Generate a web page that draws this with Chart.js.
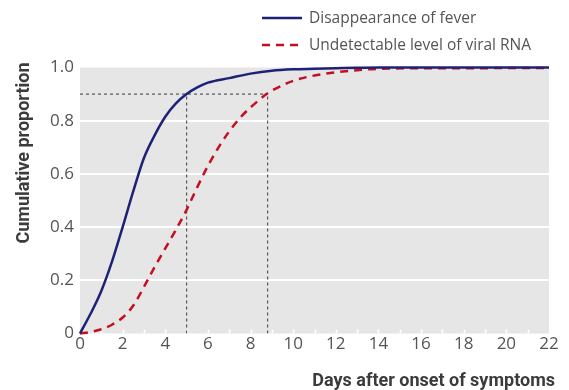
<!DOCTYPE html>
<html>
<head>
<meta charset="utf-8">
<script src="https://cdn.jsdelivr.net/npm/chart.js@4"></script>
<style>
  html, body { margin: 0; padding: 0; background: #fff; }
  #wrap { width: 569px; height: 390px; position: relative; }
</style>
</head>
<body>
<div id="wrap"><canvas id="grafico"></canvas></div>
<script>
// dados
const diasFebre = [0, 0.5, 1, 1.5, 2, 2.5, 3, 3.5, 4, 4.5, 5, 5.5, 6, 7, 8, 9, 10, 11, 12, 13, 14, 16, 18, 20, 22];
const febre = [0, 0.075, 0.16, 0.27, 0.4, 0.535, 0.66, 0.745, 0.815, 0.865, 0.9, 0.925, 0.943, 0.96, 0.977, 0.988, 0.993, 0.995, 0.997, 0.999, 1.0, 1.0, 1.0, 1.0, 1.0];

const diasRna = [0, 0.5, 1, 1.5, 2, 2.5, 3, 3.5, 4, 4.5, 5, 5.5, 6, 6.5, 7, 7.5, 8, 8.75, 9, 10, 11, 12, 13, 14, 16, 18, 20, 22];
const rna = [0, 0.006, 0.016, 0.033, 0.06, 0.105, 0.175, 0.25, 0.32, 0.39, 0.465, 0.55, 0.63, 0.7, 0.76, 0.81, 0.85, 0.9, 0.913, 0.95, 0.97, 0.982, 0.99, 0.995, 0.997, 0.997, 0.998, 0.998];

const nomes = ['Disappearance of fever', 'Undetectable level of viral RNA'];
const nivelRef = 0.9;
const diasRef = [5, 8.8];

const xTicks = [0, 2, 4, 6, 8, 10, 12, 14, 16, 18, 20, 22];
const yTicks = [0, 0.2, 0.4, 0.6, 0.8, 1.0];

const azul = '#1d2277';
const vermelho = '#c40f22';
const cinzaRef = '#555555';

function pontos(xs, ys) {
  return xs.map((x, i) => ({ x: x, y: ys[i] }));
}

// fundo cinza da área do gráfico
const fundoPlugin = {
  id: 'fundo',
  beforeDraw(chart) {
    const a = chart.chartArea;
    const ctx = chart.ctx;
    ctx.save();
    ctx.fillStyle = '#e6e6e6';
    ctx.fillRect(a.left, a.top, a.right - a.left, a.bottom - a.top);
    ctx.restore();
  },
  beforeDatasetsDraw(chart) {
    // pequenas marcas brancas em cada dia
    const ctx = chart.ctx;
    const xs = chart.scales.x;
    const a = chart.chartArea;
    ctx.save();
    ctx.strokeStyle = '#ffffff';
    ctx.lineWidth = 1.5;
    for (let d = 1; d < 22; d++) {
      const px = Math.round(xs.getPixelForValue(d)) + 0.5;
      ctx.beginPath();
      ctx.moveTo(px, a.bottom);
      ctx.lineTo(px, a.bottom - 4);
      ctx.stroke();
    }
    ctx.restore();
  }
};

// legenda e títulos dos eixos
const textosPlugin = {
  id: 'textos',
  afterDraw(chart) {
    const ctx = chart.ctx;
    ctx.save();
    const linhasY = [18, 45];
    for (let i = 0; i < 2; i++) {
      const ds = chart.data.datasets[i];
      ctx.strokeStyle = ds.borderColor;
      ctx.lineWidth = 2.5;
      ctx.setLineDash(ds.borderDash || []);
      ctx.beginPath();
      ctx.moveTo(262, linhasY[i]);
      ctx.lineTo(302, linhasY[i]);
      ctx.stroke();
      ctx.setLineDash([]);
      ctx.fillStyle = '#555555';
      ctx.font = '15.5px "Open Sans", sans-serif';
      ctx.textAlign = 'left';
      ctx.textBaseline = 'middle';
      ctx.fillText(ds.label, 309, linhasY[i] + 1);
    }

    ctx.fillStyle = '#3b3b3b';
    ctx.font = 'bold 18px Roboto, sans-serif';
    ctx.textAlign = 'right';
    ctx.textBaseline = 'middle';
    ctx.fillText('Days after onset of symptoms', 555, 381);

    ctx.translate(24, 153);
    ctx.rotate(-Math.PI / 2);
    ctx.textAlign = 'center';
    ctx.fillText('Cumulative proportion', 0, 0);
    ctx.restore();
  }
};

const ctx = document.getElementById('grafico').getContext('2d');

const grafico = new Chart(ctx, {
  type: 'line',
  data: {
    datasets: [
      {
        label: nomes[0],
        data: pontos(diasFebre, febre),
        borderColor: azul,
        borderWidth: 2.5,
        pointRadius: 0,
        cubicInterpolationMode: 'monotone',
        clip: 4
      },
      {
        label: nomes[1],
        data: pontos(diasRna, rna),
        borderColor: vermelho,
        borderWidth: 2.5,
        borderDash: [8, 6],
        pointRadius: 0,
        cubicInterpolationMode: 'monotone',
        clip: 4
      },
      {
        label: 'ref-h',
        data: [{ x: 0, y: nivelRef }, { x: diasRef[1], y: nivelRef }],
        borderColor: cinzaRef,
        borderWidth: 1.2,
        borderDash: [3, 3],
        pointRadius: 0
      },
      {
        label: 'ref-v1',
        data: [{ x: diasRef[0], y: 0 }, { x: diasRef[0], y: nivelRef }],
        borderColor: cinzaRef,
        borderWidth: 1.2,
        borderDash: [3, 3],
        pointRadius: 0
      },
      {
        label: 'ref-v2',
        data: [{ x: diasRef[1], y: 0 }, { x: diasRef[1], y: nivelRef }],
        borderColor: cinzaRef,
        borderWidth: 1.2,
        borderDash: [3, 3],
        pointRadius: 0
      }
    ]
  },
  options: {
    responsive: true,
    maintainAspectRatio: false,
    animation: false,
    layout: { padding: { top: 67.5, right: 20, left: 0, bottom: 0 } },
    plugins: {
      legend: { display: false },
      tooltip: { enabled: false }
    },
    scales: {
      x: {
        type: 'linear',
        min: 0,
        max: 22,
        afterFit(scale) { scale.height = 56.5; },
        afterBuildTicks(scale) { scale.ticks = xTicks.map(v => ({ value: v })); },
        ticks: {
          color: '#555555',
          font: { family: '"Open Sans", sans-serif', size: 17 },
          padding: 0,
          maxRotation: 0,
          autoSkip: false
        },
        grid: { display: false, drawTicks: false },
        border: { display: false }
      },
      y: {
        min: 0,
        max: 1,
        afterFit(scale) { scale.width = 80; },
        afterBuildTicks(scale) { scale.ticks = yTicks.map(v => ({ value: v })); },
        ticks: {
          color: '#555555',
          font: { family: '"Open Sans", sans-serif', size: 17 },
          padding: 6,
          callback: v => v === 0 ? '0' : v.toFixed(1)
        },
        grid: {
          drawTicks: false,
          lineWidth: 2,
          color: c => (c.tick && c.tick.value > 0 && c.tick.value < 1) ? '#ffffff' : 'rgba(0,0,0,0)'
        },
        border: { display: false }
      }
    }
  },
  plugins: [fundoPlugin, textosPlugin]
});
</script>
</body>
</html>
